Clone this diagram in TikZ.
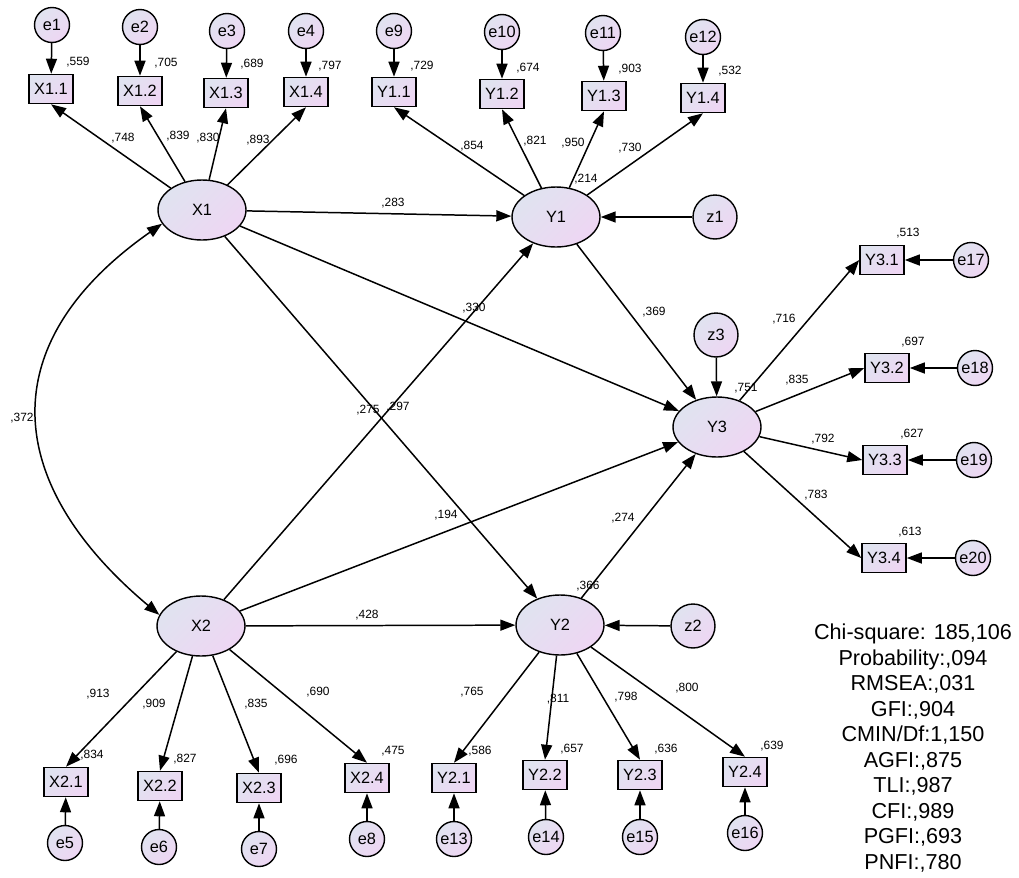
\documentclass[tikz,border=0pt]{standalone}
\usepackage{fontspec}
\setmainfont{Liberation Sans}
\usepackage{tikz}
\usetikzlibrary{arrows.meta, shapes.geometric}
\definecolor{shadeA}{RGB}{224,227,240}
\definecolor{shadeB}{RGB}{238,214,243}

\begin{document}
\begin{tikzpicture}[x=0.02cm, y=-0.02cm, >={Triangle[length=3mm,width=2.2mm]},
  tint/.style={top color=shadeA, bottom color=shadeB, shading angle=45},
  obs/.style={draw, rectangle, line width=0.9pt, minimum width=0.88cm, minimum height=0.58cm, inner sep=0pt, tint, font=\fontsize{9.3}{10}\selectfont},
  err/.style={draw, circle, line width=0.8pt, minimum size=0.7cm, inner sep=0pt, tint, font=\fontsize{9.3}{10}\selectfont},
  dist/.style={err, minimum size=0.88cm},
  lat/.style={draw, ellipse, line width=0.8pt, minimum width=1.76cm, minimum height=1.2cm, inner sep=0pt, tint, font=\fontsize{9.3}{10}\selectfont},
  lbl/.style={inner sep=0pt, font=\fontsize{6.8}{8}\selectfont},
  arr/.style={->, line width=0.85pt}]
\useasboundingbox (0,0) rectangle (1019,877);

% X1 block
\node[lat] (X1) at (202,210) {X1};
\node[obs] (X11) at (51,89) {X1.1};
\node[obs] (X12) at (140,91) {X1.2};
\node[obs] (X13) at (226,93) {X1.3};
\node[obs] (X14) at (306,92) {X1.4};
\node[err] (e1) at (52,25) {e1};
\node[err] (e2) at (140,27) {e2};
\node[err] (e3) at (227,31) {e3};
\node[err] (e4) at (306,31) {e4};

% Y1 block
\node[lat] (Y1) at (556,217) {Y1};
\node[dist] (z1) at (715,217) {z1};
\node[obs] (Y11) at (394,92) {Y1.1};
\node[obs] (Y12) at (502,94) {Y1.2};
\node[obs] (Y13) at (604,96) {Y1.3};
\node[obs] (Y14) at (703,98) {Y1.4};
\node[err] (e9) at (394,31) {e9};
\node[err] (e10) at (502,32) {e10};
\node[err] (e11) at (603,33) {e11};
\node[err] (e12) at (703,37) {e12};

% Y3 block
\node[lat] (Y3) at (717,427) {Y3};
\node[dist] (z3) at (716,335) {z3};
\node[obs] (Y31) at (882,260) {Y3.1};
\node[obs] (Y32) at (887,368) {Y3.2};
\node[obs] (Y33) at (885,460) {Y3.3};
\node[obs] (Y34) at (884,558) {Y3.4};
\node[err] (e17) at (971,260) {e17};
\node[err] (e18) at (975,368) {e18};
\node[err] (e19) at (974,460) {e19};
\node[err] (e20) at (973,558) {e20};

% X2 block
\node[lat] (X2) at (201,626) {X2};
\node[obs] (X21) at (66,782) {X2.1};
\node[obs] (X22) at (160,786) {X2.2};
\node[obs] (X23) at (259,788) {X2.3};
\node[obs] (X24) at (367,778) {X2.4};
\node[err] (e5) at (65,843) {e5};
\node[err] (e6) at (159,847) {e6};
\node[err] (e7) at (259,849) {e7};
\node[err] (e8) at (367,839) {e8};

% Y2 block
\node[lat] (Y2) at (560,625) {Y2};
\node[dist] (z2) at (693,626) {z2};
\node[obs] (Y21) at (454,778) {Y2.1};
\node[obs] (Y22) at (545,775) {Y2.2};
\node[obs] (Y23) at (640,775) {Y2.3};
\node[obs] (Y24) at (745,772) {Y2.4};
\node[err] (e13) at (454,839) {e13};
\node[err] (e14) at (546,837) {e14};
\node[err] (e15) at (640,837) {e15};
\node[err] (e16) at (745,833) {e16};

% measurement paths
\path[arr] (e1) edge (X11) (e2) edge (X12) (e3) edge (X13) (e4) edge (X14);
\path[arr] (X1) edge (X11.south) (X1) edge (X12.south) (X1) edge (X13.south) (X1) edge (X14.south);
\path[arr] (e9) edge (Y11) (e10) edge (Y12) (e11) edge (Y13) (e12) edge (Y14);
\path[arr] (Y1) edge (Y11.south) (Y1) edge (Y12.south) (Y1) edge (Y13.south) (Y1) edge (Y14.south);
\path[arr] (e17) edge (Y31) (e18) edge (Y32) (e19) edge (Y33) (e20) edge (Y34);
\path[arr] (Y3) edge (Y31.west) (Y3) edge (Y32.west) (Y3) edge (Y33.west) (Y3) edge (Y34.west);
\path[arr] (e5) edge (X21) (e6) edge (X22) (e7) edge (X23) (e8) edge (X24);
\path[arr] (X2) edge (X21.north) (X2) edge (X22.north) (X2) edge (X23.north) (X2) edge (X24.north);
\path[arr] (e13) edge (Y21) (e14) edge (Y22) (e15) edge (Y23) (e16) edge (Y24);
\path[arr] (Y2) edge (Y21.north) (Y2) edge (Y22.north) (Y2) edge (Y23.north) (Y2) edge (Y24.north);

% structural paths
\path[arr] (X1) edge (Y1) (X1) edge (Y3) (X1) edge (Y2);
\path[arr] (X2) edge (Y1) (X2) edge (Y3) (X2) edge (Y2);
\path[arr] (Y1) edge (Y3) (Y2) edge (Y3);
\path[arr] (z1) edge (Y1) (z2) edge (Y2) (z3) edge (Y3);
\draw[arr, <->] (X1.199) to[out=215, in=140, looseness=1.35] (X2.165);

% estimates
\node[lbl] (rX11) at (78,62) {,559};
\node[lbl] (rX12) at (166,63) {,705};
\node[lbl] (rX13) at (252,64) {,689};
\node[lbl] (rX14) at (330,66) {,797};
\node[lbl] (wX11) at (123,138) {,748};
\node[lbl] (wX12) at (178,136) {,839};
\node[lbl] (wX13) at (208,138) {,830};
\node[lbl] (wX14) at (258,140) {,893};
\node[lbl] (rY11) at (422,66) {,729};
\node[lbl] (rY12) at (528,68) {,674};
\node[lbl] (rY13) at (630,69) {,903};
\node[lbl] (rY14) at (730,71) {,532};
\node[lbl] (wY11) at (472,146) {,854};
\node[lbl] (wY12) at (535,141) {,821};
\node[lbl] (wY13) at (573,143) {,950};
\node[lbl] (wY14) at (630,148) {,730};
\node[lbl] (rY1) at (586,179) {,214};
\node[lbl] (bX1Y1) at (393,203) {,283};
\node[lbl] (rY31) at (908,233) {,513};
\node[lbl] (rY32) at (913,342) {,697};
\node[lbl] (rY33) at (912,434) {,627};
\node[lbl] (rY34) at (910,532) {,613};
\node[lbl] (wY31) at (784,319) {,716};
\node[lbl] (wY32) at (797,380) {,835};
\node[lbl] (wY33) at (823,439) {,792};
\node[lbl] (wY34) at (816,495) {,783};
\node[lbl] (rY3) at (746,388) {,751};
\node[lbl] (bY1Y3) at (654,312) {,369};
\node[lbl] (bY2Y3) at (623,518) {,274};
\node[lbl] (rY2) at (588,586) {,366};
\node[lbl] (bX2Y2) at (367,615) {,428};
\node[lbl] (wX21) at (98,694) {,913};
\node[lbl] (wX22) at (154,704) {,909};
\node[lbl] (wX23) at (256,704) {,835};
\node[lbl] (wX24) at (318,692) {,690};
\node[lbl] (wY21) at (472,692) {,765};
\node[lbl] (wY22) at (558,699) {,811};
\node[lbl] (wY23) at (626,697) {,798};
\node[lbl] (wY24) at (687,688) {,800};
\node[lbl] (rX21) at (92,755) {,834};
\node[lbl] (rX22) at (185,759) {,827};
\node[lbl] (rX23) at (286,760) {,696};
\node[lbl] (rX24) at (393,751) {,475};
\node[lbl] (rY21) at (480,751) {,586};
\node[lbl] (rY22) at (572,749) {,657};
\node[lbl] (rY23) at (666,749) {,636};
\node[lbl] (rY24) at (772,746) {,639};
\node[lbl] (cX1X2) at (22,418) {,372};
\node[lbl] (bX1Y3) at (474,308) {,330};
\node[lbl] (bX2Y1) at (368,410) {,275};
\node[lbl] (bX1Y2) at (398,407) {,297};
\node[lbl] (bX2Y3) at (446,515) {,194};

% fit indices
\node[align=center, inner sep=0pt, font=\fontsize{12.3}{14.5}\selectfont] (fitinfo) at (913,748)
  {Chi-square: 185,106\\Probability:,094\\RMSEA:,031\\GFI:,904\\CMIN/Df:1,150\\AGFI:,875\\TLI:,987\\CFI:,989\\PGFI:,693\\PNFI:,780};
\end{tikzpicture}
\end{document}
